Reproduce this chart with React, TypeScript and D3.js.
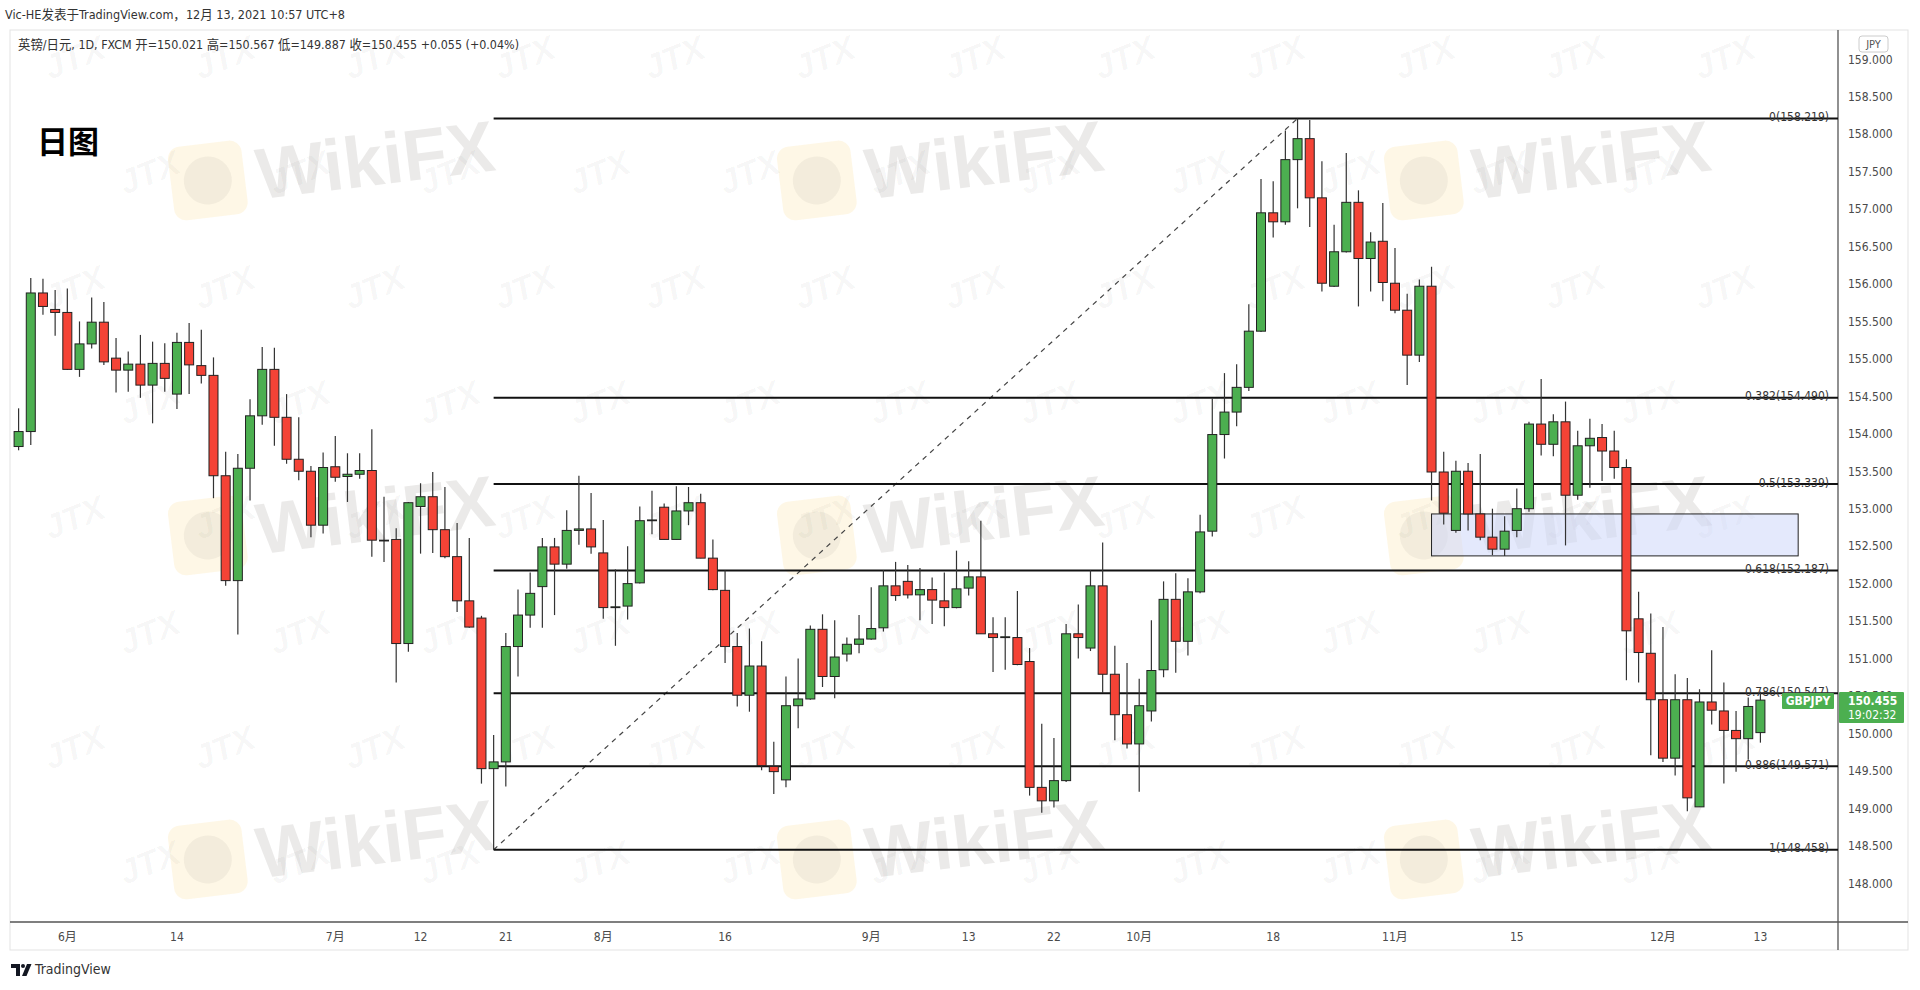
import * as d3 from 'd3';

// GBPJPY daily, FXCM
const START_DATE = '2021-05-26';

const opens = [
  153.84, 154.04, 155.89, 155.67, 155.63, 154.87, 155.21, 155.50, 155.02, 154.86,
  154.94, 154.66, 154.95, 154.54, 155.23, 154.92, 154.79, 153.45, 152.05, 153.55,
  154.25, 154.87, 154.23, 153.67, 153.51, 152.79, 153.57, 153.44, 153.47, 153.52,
  152.59, 152.60, 151.21, 153.04, 153.17, 152.73, 152.37, 151.78, 151.55, 149.54,
  149.63, 151.17, 151.59, 151.97, 152.50, 152.27, 152.72, 152.74, 152.42, 151.70,
  151.71, 152.02, 152.86, 153.03, 152.60, 152.98, 153.09, 152.35, 151.92, 151.17,
  150.52, 150.91, 149.57, 149.39, 150.38, 150.47, 151.40, 150.77, 151.07, 151.20,
  151.27, 151.42, 151.98, 152.04, 151.86, 151.93, 151.78, 151.69, 151.95, 152.10,
  151.34, 151.29, 151.29, 150.97, 149.29, 149.11, 149.38, 151.34, 151.15, 151.98,
  150.80, 150.26, 149.87, 150.31, 150.86, 151.80, 151.24, 151.90, 152.71, 154.00,
  154.30, 154.63, 155.38, 156.96, 156.84, 157.67, 157.95, 157.16, 155.98, 156.44,
  157.10, 156.35, 156.58, 156.02, 155.66, 155.06, 155.98, 153.50, 152.72, 153.51,
  152.94, 152.63, 152.47, 152.72, 153.01, 154.14, 153.87, 154.17, 153.19, 153.85,
  153.96, 153.78, 153.56, 151.54, 151.08, 150.46, 149.68, 150.46, 149.03, 150.43,
  150.31, 150.05, 149.94, 150.021,
];

const highs = [
  154.35, 156.09, 156.08, 155.93, 155.95, 155.51, 155.83, 155.77, 155.29, 155.11,
  155.33, 155.24, 155.22, 155.36, 155.49, 155.40, 155.03, 153.77, 153.74, 154.47,
  155.17, 155.16, 154.54, 154.23, 153.58, 153.76, 153.98, 153.75, 153.75, 154.07,
  153.17, 152.75, 153.10, 153.35, 153.50, 153.30, 152.82, 152.62, 151.58, 149.99,
  151.35, 151.93, 152.16, 152.62, 152.62, 152.99, 153.45, 153.22, 152.86, 152.20,
  152.51, 153.04, 153.25, 153.08, 153.31, 153.30, 153.21, 152.60, 152.19, 151.35,
  151.41, 151.24, 149.90, 150.77, 151.01, 151.45, 151.60, 151.52, 151.29, 151.59,
  151.96, 152.19, 152.30, 152.26, 152.22, 152.09, 152.16, 152.45, 152.31, 152.85,
  151.56, 151.56, 151.91, 151.15, 150.14, 149.95, 151.47, 151.73, 152.19, 152.56,
  151.18, 150.95, 150.74, 151.52, 152.04, 152.15, 152.08, 152.93, 154.48, 154.82,
  154.94, 155.74, 157.41, 157.38, 158.06, 158.219, 158.20, 157.65, 156.80, 157.76,
  157.26, 156.70, 157.09, 156.49, 155.88, 156.07, 156.24, 153.77, 153.65, 153.62,
  153.74, 153.01, 152.91, 153.28, 154.17, 154.74, 154.27, 154.44, 154.05, 154.21,
  154.14, 154.05, 153.67, 151.90, 151.61, 151.43, 150.80, 150.75, 150.60, 151.12,
  150.69, 150.31, 150.49, 150.567,
];

const lows = [
  153.79, 153.86, 155.60, 155.32, 154.86, 154.77, 155.15, 154.93, 154.56, 154.57,
  154.49, 154.15, 154.57, 154.34, 154.54, 154.68, 153.15, 151.98, 151.33, 153.12,
  154.13, 153.85, 153.61, 153.39, 152.63, 152.68, 153.37, 153.10, 153.41, 152.37,
  152.30, 150.69, 151.10, 152.41, 152.42, 152.35, 151.63, 151.42, 149.34, 148.458,
  149.30, 150.77, 151.42, 151.42, 151.59, 152.21, 152.53, 152.41, 151.54, 151.18,
  151.53, 152.01, 152.67, 152.60, 152.60, 152.79, 152.35, 151.92, 150.95, 150.37,
  150.30, 149.52, 149.20, 149.29, 150.08, 150.46, 150.63, 150.48, 150.97, 151.08,
  151.26, 151.37, 151.78, 151.81, 151.52, 151.47, 151.44, 151.68, 151.85, 151.34,
  150.83, 150.86, 150.92, 149.18, 148.95, 149.02, 149.36, 151.01, 151.11, 150.55,
  149.92, 149.81, 149.23, 150.17, 150.76, 150.82, 151.05, 151.88, 152.64, 153.68,
  154.11, 154.58, 155.37, 156.63, 156.80, 157.02, 156.77, 155.91, 155.97, 156.43,
  155.71, 155.91, 155.78, 155.62, 154.66, 154.97, 153.12, 152.80, 152.69, 152.72,
  152.59, 152.39, 152.38, 152.63, 152.97, 153.72, 153.71, 152.52, 153.13, 153.29,
  153.38, 153.41, 150.72, 150.69, 149.72, 149.63, 149.45, 148.97, 149.03, 150.13,
  149.34, 149.50, 149.66, 149.887,
];

const closes = [
  154.04, 155.89, 155.71, 155.63, 154.87, 155.21, 155.50, 154.97, 154.86, 154.94,
  154.66, 154.95, 154.75, 155.23, 154.93, 154.79, 153.45, 152.05, 153.55, 154.25,
  154.87, 154.23, 153.67, 153.51, 152.79, 153.56, 153.43, 153.47, 153.52, 152.59,
  152.58, 151.21, 153.09, 153.17, 152.73, 152.37, 151.78, 151.43, 149.54, 149.63,
  151.17, 151.59, 151.88, 152.50, 152.27, 152.72, 152.74, 152.50, 151.69, 151.70,
  152.01, 152.85, 152.86, 152.60, 152.98, 153.09, 152.35, 151.93, 151.17, 150.52,
  150.91, 149.58, 149.50, 150.38, 150.47, 151.40, 150.77, 151.03, 151.20, 151.27,
  151.41, 151.98, 151.85, 151.86, 151.93, 151.79, 151.69, 151.94, 152.10, 151.34,
  151.29, 151.30, 150.93, 149.29, 149.11, 149.38, 151.34, 151.29, 151.98, 150.80,
  150.26, 149.87, 150.38, 150.85, 151.80, 151.24, 151.90, 152.70, 154.00, 154.30,
  154.63, 155.38, 156.96, 156.84, 157.67, 157.95, 157.16, 156.02, 156.44, 157.10,
  156.35, 156.57, 156.03, 155.66, 155.06, 155.98, 153.50, 152.95, 153.51, 152.94,
  152.63, 152.47, 152.71, 153.01, 154.14, 153.87, 154.17, 153.19, 153.85, 153.95,
  153.78, 153.56, 151.38, 151.09, 150.46, 149.68, 150.46, 149.15, 150.43, 150.32,
  150.05, 149.94, 150.37, 150.455,
];

const xTickLabels: [string, string][] = [
  ['2021-06-01', '6月'], ['2021-06-14', '14'], ['2021-07-01', '7月'], ['2021-07-12', '12'],
  ['2021-07-21', '21'], ['2021-08-02', '8月'], ['2021-08-16', '16'], ['2021-09-01', '9月'],
  ['2021-09-13', '13'], ['2021-09-22', '22'], ['2021-10-01', '10月'], ['2021-10-18', '18'],
  ['2021-11-01', '11月'], ['2021-11-15', '15'], ['2021-12-01', '12月'], ['2021-12-13', '13'],
];

const priceTicks = d3.range(148, 159.001, 0.5);
const fibLevels = [0, 0.382, 0.5, 0.618, 0.786, 0.886, 1];

const TITLE = 'Vic-HE发表于TradingView.com，12月 13, 2021 10:57 UTC+8';
const LEGEND = '英镑/日元, 1D, FXCM  开=150.021  高=150.567  低=149.887  收=150.455  +0.055 (+0.04%)';

// layout
const W = 1920;
const H = 990;
const PLOT_L = 10;
const PLOT_R = 1838;
const PLOT_T = 30;
const PLOT_B = 922;
const PANEL_R = 1908;
const PANEL_B = 950;

const GREEN = '#4caf50';
const RED = '#f44336';
const FONT = '"DejaVu Sans Condensed", "DejaVu Sans", "Noto Sans CJK SC", sans-serif';

function tradingDays(start: string, n: number): string[] {
  const out: string[] = [];
  const d = new Date(start + 'T00:00:00Z');
  while (out.length < n) {
    const wd = d.getUTCDay();
    if (wd !== 0 && wd !== 6) out.push(d.toISOString().slice(0, 10));
    d.setUTCDate(d.getUTCDate() + 1);
  }
  return out;
}

const dates = tradingDays(START_DATE, closes.length);

export default function App() {
  const x = d3.scaleLinear().domain([-0.706, 149.37]).range([PLOT_L, PLOT_R]);
  const y = d3.scaleLinear().domain([148, 159]).range([884, 60]);

  const hi = d3.max(highs) as number;
  const lo = d3.min(lows) as number;
  const hiIdx = highs.indexOf(hi);
  const loIdx = lows.indexOf(lo);
  const fibs = fibLevels.map(l => ({ level: l, price: hi - l * (hi - lo) }));

  const last = closes.length - 1;
  const lastY = y(closes[last]);

  // zone box drawn on the chart
  const zone = { i0: 116, i1: 146.1, p0: 152.94, p1: 152.38 };

  const wikiRows = [184, 539, 863];
  const wikiCols = [171, 780, 1387];
  const jtx: [number, number][] = [];
  for (let r = 0; r < 8; r++) {
    for (let c = 0; c < 12; c++) {
      const jx = 50 + c * 150 + (r % 2) * 75;
      if (jx < 1760) jtx.push([jx, 80 + r * 115]);
    }
  }

  return (
    <svg
      width={W}
      height={H}
      style={{ position: 'absolute', left: 0, top: 0, background: '#fff' }}
      fontFamily={FONT}
    >
      <defs>
        <clipPath id="plot">
          <rect x={PLOT_L} y={PLOT_T} width={PLOT_R - PLOT_L} height={PLOT_B - PLOT_T} />
        </clipPath>
      </defs>

      <rect x={0} y={0} width={W} height={H} fill="#fff" />

      {/* watermarks */}
      <g pointerEvents="none" clipPath="url(#plot)">
        {jtx.map(([jx, jy], i) => (
          <text
            key={'j' + i}
            x={jx}
            y={jy}
            fontSize={34}
            fontStyle="italic"
            fontWeight="bold"
            fontFamily="Liberation Sans, sans-serif"
            fill="rgba(0,0,0,0.04)"
            transform={`rotate(-22 ${jx} ${jy})`}
          >
            JTX
          </text>
        ))}
        {wikiRows.map(wy =>
          wikiCols.map(wx => (
            <g key={`w${wx}-${wy}`} transform={`rotate(-7 ${wx} ${wy})`}>
              <rect x={wx} y={wy - 36} width={74} height={74} rx={12} fill="rgba(250,220,140,0.22)" />
              <circle cx={wx + 37} cy={wy + 1} r={24} fill="rgba(120,110,100,0.08)" />
              <text
                x={wx + 86}
                y={wy + 26}
                fontSize={72}
                fontWeight="bold"
                fontFamily="Liberation Sans, sans-serif"
                fill="rgba(90,80,75,0.12)"
              >
                WikiFX
              </text>
            </g>
          ))
        )}
      </g>

      {/* header */}
      <text x={5} y={15} fontSize={13} fill="#333" dominantBaseline="middle" textLength={340} lengthAdjust="spacingAndGlyphs">
        {TITLE}
      </text>

      {/* panel frame */}
      <rect x={PLOT_L} y={PLOT_T} width={PANEL_R - PLOT_L} height={PANEL_B - PLOT_T} fill="none" stroke="#e3e3e3" />
      <line x1={PLOT_L} x2={PANEL_R} y1={PLOT_B} y2={PLOT_B} stroke="#555" strokeWidth={1.3} />
      <line x1={PLOT_R} x2={PLOT_R} y1={PLOT_T} y2={PANEL_B} stroke="#555" strokeWidth={1.3} />

      <text x={18} y={45} fontSize={13} fill="#333" dominantBaseline="middle" textLength={501} lengthAdjust="spacingAndGlyphs">
        {LEGEND}
      </text>

      <text x={37} y={145} fontSize={31} fontWeight="bold" fill="#000" dominantBaseline="middle" fontFamily='"Noto Sans CJK SC", sans-serif'>
        日图
      </text>

      <g clipPath="url(#plot)">
        {/* zone box */}
        <rect
          x={x(zone.i0)}
          y={y(zone.p0)}
          width={x(zone.i1) - x(zone.i0)}
          height={y(zone.p1) - y(zone.p0)}
          fill="rgba(205,215,250,0.55)"
          stroke="#222"
          strokeWidth={1}
        />

        {/* fib retracement */}
        <line
          x1={x(loIdx)}
          y1={y(lo)}
          x2={x(hiIdx)}
          y2={y(hi)}
          stroke="#444"
          strokeWidth={1.2}
          strokeDasharray="5,5"
        />
        {fibs.map(f => (
          <line key={f.level} x1={x(loIdx)} x2={PLOT_R} y1={y(f.price)} y2={y(f.price)} stroke="#111" strokeWidth={2} />
        ))}

        {/* candles */}
        {dates.map((d, i) => {
          const o = opens[i];
          const c = closes[i];
          const cx = x(i);
          const top = y(Math.max(o, c));
          const bot = y(Math.min(o, c));
          return (
            <g key={d}>
              <line x1={cx} x2={cx} y1={y(highs[i])} y2={y(lows[i])} stroke="#333" strokeWidth={1.2} />
              <rect
                x={cx - 4.5}
                y={top}
                width={9}
                height={Math.max(bot - top, 0.8)}
                fill={c >= o ? GREEN : RED}
                stroke="#222"
                strokeWidth={1}
              />
            </g>
          );
        })}

        {fibs.map(f => (
          <text
            key={'l' + f.level}
            x={1829}
            y={y(f.price) - 1}
            fontSize={12}
            fill="#333"
            textAnchor="end"
            dominantBaseline="middle"
          >
            {`${f.level}(${f.price.toFixed(3)})`}
          </text>
        ))}

        {/* symbol tag */}
        <rect x={1782} y={lastY - 7} width={52} height={16} fill={GREEN} rx={1} />
        <text x={1808} y={lastY + 1} fontSize={12} fontWeight="bold" fill="#fff" textAnchor="middle" dominantBaseline="middle">
          GBPJPY
        </text>
      </g>

      {/* price axis */}
      <rect x={1859} y={36} width={29} height={16} rx={3} fill="#fff" stroke="#ccc" />
      <text x={1873.5} y={44.5} fontSize={11} fill="#555" textAnchor="middle" dominantBaseline="middle">
        JPY
      </text>
      {priceTicks.map(p => (
        <text key={p} x={1848} y={y(p)} fontSize={12} fill="#4a4a4a" dominantBaseline="middle">
          {p.toFixed(3)}
        </text>
      ))}
      <rect x={1839} y={lastY - 8} width={65} height={31} fill={GREEN} rx={1} />
      <text x={1848} y={lastY + 1} fontSize={12} fontWeight="bold" fill="#fff" dominantBaseline="middle">
        {closes[last].toFixed(3)}
      </text>
      <text x={1848} y={lastY + 15} fontSize={12} fill="#fff" dominantBaseline="middle">
        19:02:32
      </text>

      {/* time axis */}
      {xTickLabels.map(([d, label]) => {
        const i = dates.indexOf(d);
        return (
          <text key={d} x={x(i)} y={937} fontSize={12} fill="#4a4a4a" textAnchor="middle" dominantBaseline="middle">
            {label}
          </text>
        );
      })}

      {/* TradingView mark */}
      <g fill="#131722">
        <path d="M11 964 h9 v12 h-4 v-8 h-5 z" />
        <circle cx={23} cy={966} r={2} />
        <path d="M27 964 h4.5 l-5 12 h-4.5 z" />
      </g>
      <text x={35} y={970} fontSize={14} fill="#333" dominantBaseline="middle">
        TradingView
      </text>
    </svg>
  );
}
